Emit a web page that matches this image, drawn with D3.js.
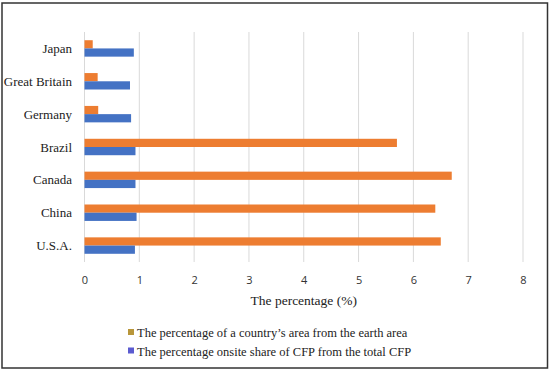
<!DOCTYPE html>
<html><head><meta charset="utf-8">
<script src="https://cdn.jsdelivr.net/npm/d3@7"></script>
<style>body{margin:0;background:#fff;} svg{display:block;}</style>
</head><body>
<script>
const categories = ["Japan","Great Britain","Germany","Brazil","Canada","China","U.S.A."];
const areaShare = [0.15,0.24,0.25,5.7,6.7,6.4,6.5];
const cfpShare = [0.9,0.83,0.85,0.93,0.93,0.95,0.92];
const xTicks = [0,1,2,3,4,5,6,7,8];
const seriesNames = ["The percentage of a country\u2019s area from the earth area","The percentage onsite share of CFP from the total CFP"];
const barColors = ["#ED7D31","#4472C4"];
const legendColors = ["#B8963A","#5B5BD0"];

const W=550,H=372;
const serif="'Liberation Serif', 'Times New Roman', serif";
const svg=d3.select("body").append("svg").attr("width",W).attr("height",H);
svg.append("rect").attr("x",2).attr("y",3).attr("width",545.5).attr("height",365).attr("fill","#fff").attr("stroke","#333").attr("stroke-width",1.5);

const x=d3.scaleLinear().domain([0,8]).range([84.5,523]);
const y=d3.scaleBand().domain(categories).range([32,262]).paddingInner(0.5).paddingOuter(0.25);
const sub=d3.scaleBand().domain([0,1]).range([0,y.bandwidth()]);

const g=svg.append("g");
g.selectAll("line.grid").data(xTicks).join("line").attr("class","grid")
 .attr("x1",d=>x(d)).attr("x2",d=>x(d)).attr("y1",32).attr("y2",262)
 .attr("stroke","#d9d9d9").attr("stroke-width",1);

const data=categories.map((c,i)=>({c,v:[areaShare[i],cfpShare[i]]}));
const rows=g.selectAll("g.row").data(data).join("g").attr("transform",d=>`translate(0,${y(d.c)})`);
rows.selectAll("rect").data(d=>d.v.map((v,k)=>({v,k}))).join("rect")
 .attr("x",x(0)).attr("y",d=>sub(d.k)).attr("height",sub.bandwidth())
 .attr("width",d=>x(d.v)-x(0)).attr("fill",d=>barColors[d.k]);

// category labels
g.selectAll("text.cat").data(categories).join("text").attr("class","cat")
 .attr("x",72).attr("y",d=>y(d)+y.bandwidth()/2).attr("dy","0.35em")
 .attr("text-anchor","end").attr("font-family",serif).attr("font-size",13)
 .attr("fill","#222").text(d=>d);

// x axis tick labels
const xAxis=d3.axisBottom(x).tickValues(xTicks).tickSize(0).tickPadding(0).tickFormat(d3.format("d"));
const ax=svg.append("g").attr("transform","translate(0,276)").call(xAxis);
ax.select(".domain").remove();
ax.selectAll("text").attr("font-family","'Open Sans', sans-serif").attr("font-size",11).attr("fill","#333");

svg.append("text").attr("x",(x(0)+x(8))/2).attr("y",305).attr("text-anchor","middle")
 .attr("font-family",serif).attr("font-size",13.5).attr("fill","#222").text("The percentage (%)");

const leg=svg.append("g");
seriesNames.forEach((s,i)=>{
  const yy=333+i*18.5;
  leg.append("rect").attr("x",128).attr("y",yy-4).attr("width",6).attr("height",6).attr("fill",legendColors[i]);
  leg.append("text").attr("x",137).attr("y",yy).attr("dy","0.35em").attr("font-family",serif)
   .attr("font-size",12.5).attr("fill","#222").text(s);
});
</script>
</body></html>
